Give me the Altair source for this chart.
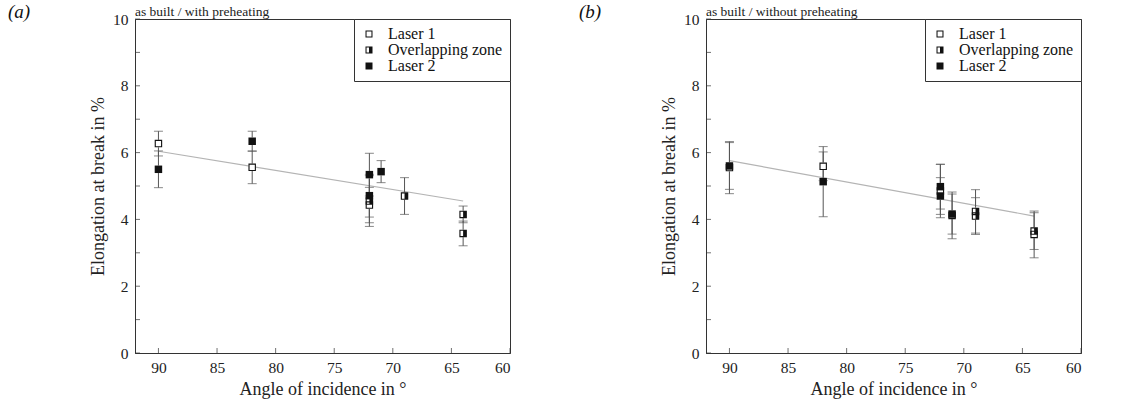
import altair as alt
import pandas as pd

SERIF = "Liberation Serif"

L1, OZ, L2 = "Laser 1", "Overlapping zone", "Laser 2"
SERIES_ORDER = [L1, OZ, L2]

# ---- panel (a): as built / with preheating
a_x = [90, 90, 82, 82, 72, 72, 72, 72, 71, 69, 64, 64]
a_series = [L1, L2, L2, L1, L2, L2, L1, OZ, L2, OZ, OZ, OZ]
a_y = [6.27, 5.50, 6.34, 5.56, 5.34, 4.71, 4.43, 4.55, 5.43, 4.70, 4.15, 3.58]
a_err = [0.37, 0.55, 0.30, 0.49, 0.64, 0.64, 0.53, 0.76, 0.33, 0.55, 0.25, 0.37]
a_fit_x = [90, 64]
a_fit_y = [6.04, 4.55]

# ---- panel (b): as built / without preheating
b_x = [90, 90, 82, 82, 72, 72, 72, 71, 71, 69, 69, 64, 64]
b_series = [L1, L2, L1, L2, L1, L2, L2, L1, L2, OZ, OZ, L1, OZ]
b_y = [5.55, 5.60, 5.59, 5.13, 4.85, 4.98, 4.70, 4.12, 4.16, 4.10, 4.24, 3.55, 3.65]
b_err = [0.78, 0.70, 0.43, 1.05, 0.80, 0.67, 0.55, 0.70, 0.60, 0.55, 0.65, 0.70, 0.55]
b_fit_x = [90, 64]
b_fit_y = [5.76, 4.10]

x_tick_vals = [90, 85, 80, 75, 70, 65, 60]
y_label_vals = [0, 2, 4, 6, 8, 10]
y_tick_vals = list(range(0, 11))

RING = "M-1,-1L1,-1L1,1L-1,1Z M-0.7,-0.7L-0.7,0.7L0.7,0.7L0.7,-0.7Z"
HALF = RING + " M0,-0.7L0.7,-0.7L0.7,0.7L0,0.7Z"

W, H = 375, 334

xscale = alt.Scale(domain=[60, 92], reverse=True, nice=False, zero=False)
yscale = alt.Scale(domain=[0, 10], nice=False)


def make_panel(xs, ys, errs, series, fx, fy, title, tag):
    df = pd.DataFrame({"angle": xs, "elong": ys, "err": errs, "series": series})
    df["lo"] = df["elong"] - df["err"]
    df["hi"] = df["elong"] + df["err"]
    fit = pd.DataFrame({"angle": fx, "elong": fy})

    X = alt.X("angle:Q", scale=xscale,
              axis=alt.Axis(values=x_tick_vals, title="Angle of incidence in °",
                            labelPadding=7, titlePadding=5))
    Y = alt.Y("elong:Q", scale=yscale,
              axis=alt.Axis(values=y_label_vals, title="Elongation at break in %",
                            labelPadding=7, titlePadding=5))

    fit_line = alt.Chart(fit).mark_line(color="#b4b4b4", strokeWidth=1.2).encode(x=X, y=Y)

    base = alt.Chart(df)
    rules = base.mark_rule(color="#555", strokeWidth=1).encode(
        x="angle:Q", y="lo:Q", y2="hi:Q")
    cap_lo = base.mark_tick(orient="horizontal", size=9, thickness=1, color="#555").encode(
        x="angle:Q", y="lo:Q")
    cap_hi = base.mark_tick(orient="horizontal", size=9, thickness=1, color="#555").encode(
        x="angle:Q", y="hi:Q")
    backs = base.mark_square(color="white", size=56, opacity=1).encode(x="angle:Q", y="elong:Q")
    pts = base.mark_point(filled=True, size=56, color="#111", opacity=1, strokeWidth=0).encode(
        x="angle:Q", y="elong:Q",
        shape=alt.Shape("series:N",
                        scale=alt.Scale(domain=SERIES_ORDER, range=[RING, HALF, "square"]),
                        legend=alt.Legend(title=None, orient="top-right", offset=0,
                                          strokeColor="#333", fillColor="white",
                                          padding=7, labelFont=SERIF, labelFontSize=16,
                                          labelColor="#111", symbolSize=49,
                                          symbolFillColor="#111", symbolStrokeWidth=0,
                                          rowPadding=0, labelOffset=11, cornerRadius=0)))

    yt = alt.Chart(pd.DataFrame({"v": y_tick_vals})).mark_tick(
        orient="horizontal", size=5, thickness=1, color="#333").encode(
        y=alt.Y("v:Q", scale=yscale), x=alt.value(2.5))
    xt = alt.Chart(pd.DataFrame({"v": x_tick_vals})).mark_tick(
        orient="vertical", size=5, thickness=1, color="#333").encode(
        x=alt.X("v:Q", scale=xscale), y=alt.value(H - 2.5))

    lab = alt.Chart(pd.DataFrame({"t": [tag]})).mark_text(
        font=SERIF, fontSize=19, fontStyle="italic", align="left", baseline="middle",
        color="#111").encode(
        text="t:N", x=alt.value(-127), y=alt.value(-7))
    ttl = alt.Chart(pd.DataFrame({"t": [title]})).mark_text(
        font=SERIF, fontSize=13.5, align="left", baseline="alphabetic",
        color="#222").encode(
        text="t:N", x=alt.value(0), y=alt.value(-3))

    return alt.layer(fit_line, rules, cap_lo, cap_hi, backs, pts, yt, xt, lab, ttl).properties(
        width=W, height=H)


pa = make_panel(a_x, a_y, a_err, a_series, a_fit_x, a_fit_y,
                "as built / with preheating", "(a)")
pb = make_panel(b_x, b_y, b_err, b_series, b_fit_x, b_fit_y,
                "as built / without preheating", "(b)")

chart = alt.hconcat(pa, pb, spacing=67).resolve_scale(
    shape="independent"
).resolve_legend(
    shape="independent"
).properties(
    padding={"left": 7, "top": 2, "right": 0, "bottom": 0},
    background="white"
).configure_axis(
    labelFont=SERIF, titleFont=SERIF, labelFontSize=15.5, titleFontSize=18,
    titleFontWeight="normal", labelColor="#222", titleColor="#222",
    domainColor="#333", ticks=False, grid=False
).configure_view(stroke="#333", strokeWidth=1)

chart.save("out.html", embed_options={"renderer": "svg", "actions": False})
